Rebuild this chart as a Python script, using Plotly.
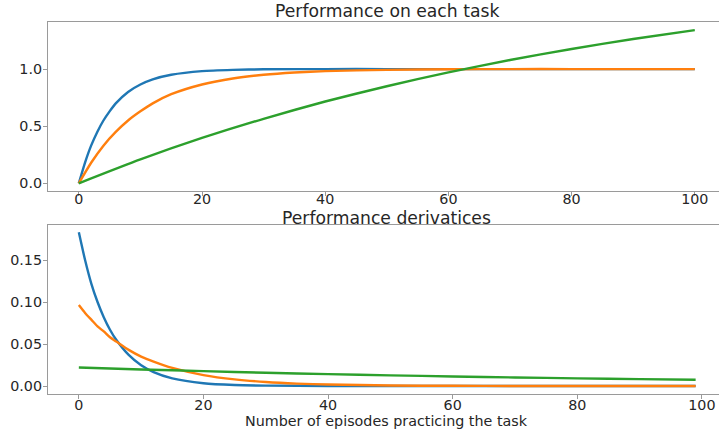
import plotly.graph_objects as go

# Performance on each task (top panel)
ep_fast = [0, 1, 2, 3, 4, 5, 6, 8, 10, 12, 15, 20, 25, 30, 40, 50, 60, 70, 80, 90, 100]
perf_fast = [0.0, 0.18, 0.33, 0.45, 0.55, 0.63, 0.70, 0.80, 0.865, 0.91, 0.95, 0.982,
             0.993, 0.998, 1.0, 1.0, 1.0, 1.0, 1.0, 1.0, 1.0]

ep_mid = [0, 2, 4, 6, 8, 10, 12, 15, 20, 25, 30, 35, 40, 50, 60, 70, 80, 90, 100]
perf_mid = [0.0, 0.18, 0.33, 0.45, 0.55, 0.63, 0.70, 0.78, 0.865, 0.918, 0.95, 0.97,
            0.982, 0.993, 0.998, 1.0, 1.0, 1.0, 1.0]

ep_slow = [0, 10, 20, 30, 40, 50, 60, 70, 80, 90, 100]
perf_slow = [0.0, 0.209, 0.397, 0.565, 0.716, 0.850, 0.971, 1.079, 1.176, 1.263, 1.341]

# Performance derivatives (bottom panel)
dep_fast = [0, 1, 2, 3, 4, 5, 6, 8, 10, 12, 15, 20, 25, 30, 40, 50, 60, 70, 80, 90, 99]
deriv_fast = [0.183, 0.150, 0.122, 0.100, 0.082, 0.067, 0.055, 0.037, 0.0247, 0.0166,
              0.0091, 0.0033, 0.0012, 0.0005, 0.0001, 0.0, 0.0, 0.0, 0.0, 0.0, 0.0]

dep_mid = [0, 1, 2, 3, 4, 5, 6, 8, 10, 12, 15, 20, 25, 30, 35, 40, 50, 60, 70, 80, 90, 99]
deriv_mid = [0.0964, 0.087, 0.079, 0.071, 0.065, 0.058, 0.053, 0.043, 0.035, 0.029,
             0.0215, 0.013, 0.0079, 0.0048, 0.0029, 0.0018, 0.00065, 0.00024, 0.0001,
             0.00003, 0.0, 0.0]

dep_slow = [0, 10, 20, 30, 40, 50, 60, 70, 80, 90, 99]
deriv_slow = [0.022, 0.0197, 0.0177, 0.0158, 0.0142, 0.0127, 0.0114, 0.0102, 0.0091,
              0.0082, 0.0074]

x_ticks = [0, 20, 40, 60, 80, 100]

BLUE, ORANGE, GREEN = "#1f77b4", "#ff7f0e", "#2ca02c"
SPINE = "#9a9a9a"
TEXT = "#262626"
FONT = "DejaVu Sans"

fig = go.Figure()

def add(x, y, color, xa, ya):
    fig.add_trace(go.Scatter(x=x, y=y, mode="lines", xaxis=xa, yaxis=ya,
                             line=dict(color=color, width=2.4, shape="spline",
                                       smoothing=0.6),
                             showlegend=False, hoverinfo="skip"))

add(ep_fast, perf_fast, BLUE, "x", "y")
add(ep_mid, perf_mid, ORANGE, "x", "y")
add(ep_slow, perf_slow, GREEN, "x", "y")

add(dep_fast, deriv_fast, BLUE, "x2", "y2")
add(dep_mid, deriv_mid, ORANGE, "x2", "y2")
add(dep_slow, deriv_slow, GREEN, "x2", "y2")

axis_common = dict(showgrid=False, zeroline=False, showline=True, linecolor=SPINE,
                   linewidth=1.2, ticks="outside", ticklen=4, tickwidth=1,
                   tickcolor=SPINE, tickfont=dict(family=FONT, size=14.3, color=TEXT))

fig.update_layout(
    width=719, height=432,
    margin=dict(l=48, r=0, t=22, b=38),
    plot_bgcolor="white", paper_bgcolor="white",
    xaxis=dict(axis_common, domain=[0, 1], anchor="y", range=[-5, 103.93],
               tickvals=x_ticks, mirror=True, ticklabelstandoff=-9),
    yaxis=dict(axis_common, domain=[0.5457, 1], anchor="x", range=[-0.067, 1.412],
               tickvals=[0.0, 0.5, 1.0], tickformat=".1f", ticklabelstandoff=-2),
    xaxis2=dict(axis_common, domain=[0, 1], anchor="y2", range=[-4.95, 102.75],
                tickvals=x_ticks, mirror=True, ticklabelstandoff=-6),
    yaxis2=dict(axis_common, domain=[0, 0.4543], anchor="x2", range=[-0.0095, 0.1917],
                tickvals=[0.0, 0.05, 0.10, 0.15], tickformat=".2f", ticklabelstandoff=-2),
    annotations=[
        dict(text="Performance on each task", xref="paper", yref="paper",
             x=0.505, y=1.0296, xanchor="center", yanchor="middle", showarrow=False,
             font=dict(family=FONT, size=17.2, color=TEXT)),
        dict(text="Performance derivatices", xref="paper", yref="paper",
             x=0.505, y=0.4731, xanchor="center", yanchor="middle", showarrow=False,
             font=dict(family=FONT, size=17.2, color=TEXT)),
        dict(text="Number of episodes practicing the task", xref="paper", yref="paper",
             x=0.505, y=-0.0725, xanchor="center", yanchor="middle", showarrow=False,
             font=dict(family=FONT, size=14.3, color=TEXT)),
    ],
)

fig.write_html("out.html")
